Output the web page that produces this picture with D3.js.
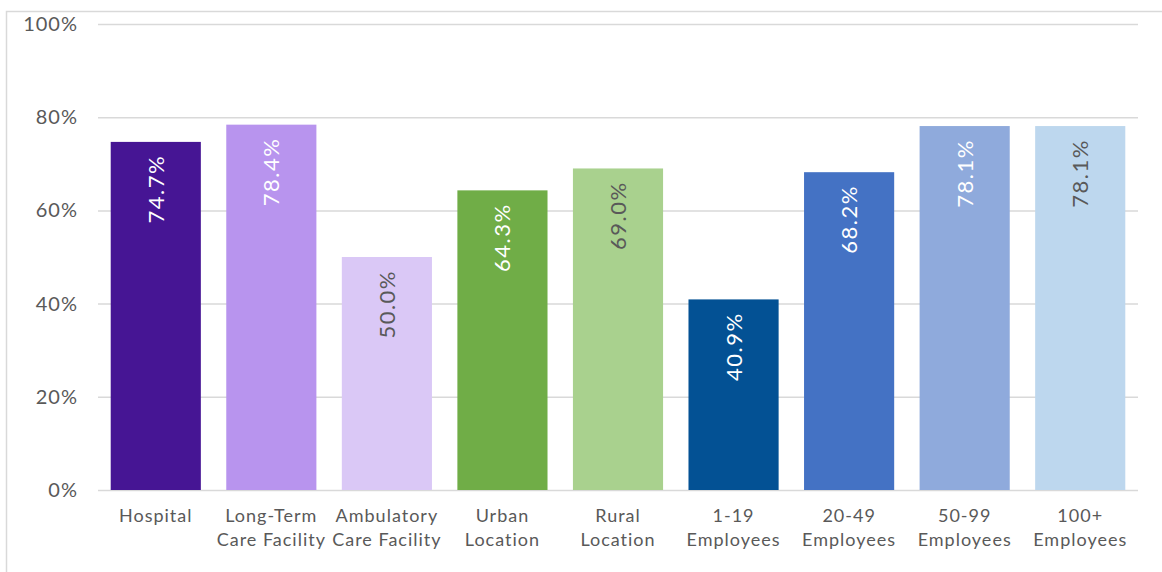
<!DOCTYPE html>
<html>
<head>
<meta charset="utf-8">
<script src="https://cdn.jsdelivr.net/npm/d3@7"></script>
<style>
  body { margin: 0; background: #fff; }
  text { font-family: "Lato", "Noto Sans", sans-serif; }
</style>
</head>
<body>
<div id="chart"></div>
<script>
// chart data
const categories = [
  ["Hospital"],
  ["Long-Term", "Care Facility"],
  ["Ambulatory", "Care Facility"],
  ["Urban", "Location"],
  ["Rural", "Location"],
  ["1-19", "Employees"],
  ["20-49", "Employees"],
  ["50-99", "Employees"],
  ["100+", "Employees"]
];
const values = [74.7, 78.4, 50.0, 64.3, 69.0, 40.9, 68.2, 78.1, 78.1];
const barColors = ["#461594", "#b894ee", "#dac8f6", "#70ad47", "#a9d18e",
                   "#035194", "#4472c4", "#8faadc", "#bdd7ee"];
const labelColors = ["#fff", "#fff", "#595959", "#fff", "#595959",
                     "#fff", "#fff", "#fff", "#595959"];
const yTicks = [0, 20, 40, 60, 80, 100];

const width = 1162, height = 572;
const margin = {top: 24, right: 24, bottom: 82, left: 98};

const svg = d3.select("#chart")
  .append("svg")
  .attr("width", width)
  .attr("height", height);

// outer frame
svg.append("rect")
  .attr("x", 6.5).attr("y", 11.5)
  .attr("width", width + 10).attr("height", height + 10)
  .attr("fill", "none")
  .attr("stroke", "#d9d9d9")
  .attr("stroke-width", 1.5);

const x = d3.scaleBand()
  .domain(d3.range(categories.length))
  .range([margin.left, width - margin.right])
  .paddingInner(0.22)
  .paddingOuter(0.11);

const y = d3.scaleLinear()
  .domain([0, 100])
  .range([height - margin.bottom, margin.top]);

// gridlines
const yAxis = svg.append("g")
  .attr("transform", "translate(" + margin.left + ",0)")
  .call(d3.axisLeft(y)
    .tickValues(yTicks)
    .tickSize(-(width - margin.left - margin.right))
    .tickPadding(20)
    .tickFormat(d => d + "%"));
yAxis.select(".domain").remove();
yAxis.selectAll(".tick line")
  .attr("stroke", "#d9d9d9")
  .attr("stroke-width", 1.5);
yAxis.selectAll(".tick text")
  .attr("fill", "#595959")
  .style("font-size", "20px")
  .style("letter-spacing", "1px")
  .style("font-family", "Lato, 'Noto Sans', sans-serif");

// bars
svg.selectAll(".bar")
  .data(values)
  .enter().append("rect")
  .attr("class", "bar")
  .attr("x", (d, i) => x(i))
  .attr("y", d => y(d))
  .attr("width", x.bandwidth())
  .attr("height", d => y(0) - y(d))
  .attr("fill", (d, i) => barColors[i]);

// value labels, rotated
svg.selectAll(".val")
  .data(values)
  .enter().append("text")
  .attr("class", "val")
  .attr("text-anchor", "end")
  .attr("transform", (d, i) =>
    "translate(" + (x(i) + x.bandwidth() / 2 + 8) + "," + (y(d) + 13) + ") rotate(-90)")
  .attr("fill", (d, i) => labelColors[i])
  .style("font-size", "22px")
  .style("letter-spacing", "1.5px")
  .text(d => d.toFixed(1) + "%");

// category labels
const cat = svg.selectAll(".cat")
  .data(categories)
  .enter().append("text")
  .attr("class", "cat")
  .attr("text-anchor", "middle")
  .attr("fill", "#595959")
  .style("font-size", "18px")
  .style("letter-spacing", "1px")
  .attr("x", (d, i) => x(i) + x.bandwidth() / 2)
  .attr("y", 522);
cat.selectAll("tspan")
  .data(d => d)
  .enter().append("tspan")
  .attr("x", function () { return d3.select(this.parentNode).attr("x"); })
  .attr("dy", (d, j) => j === 0 ? 0 : 24)
  .text(d => d);
</script>
</body>
</html>
